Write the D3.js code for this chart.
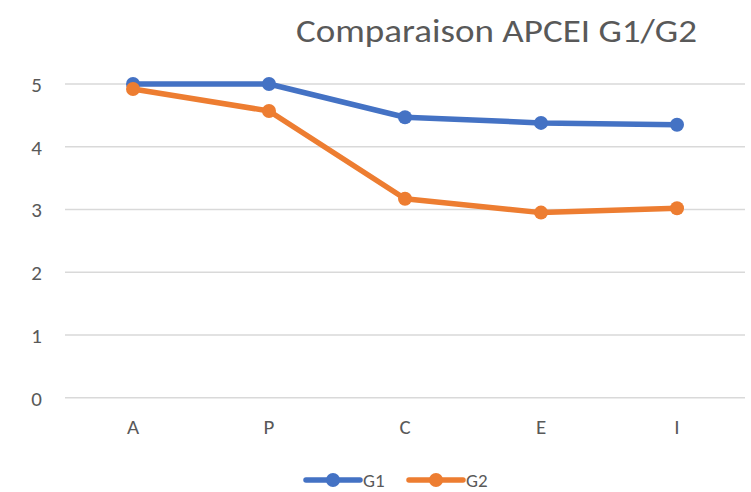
<!DOCTYPE html>
<html><head><meta charset="utf-8">
<script src="https://cdn.jsdelivr.net/npm/d3@7"></script>
<style>body{margin:0;background:#fff}svg{display:block}</style>
</head><body>
<svg id="c" width="751" height="492"></svg>
<script>
const categories = ["A","P","C","E","I"];
const g1 = [5.0, 5.0, 4.47, 4.38, 4.35];
const g2 = [4.92, 4.57, 3.17, 2.95, 3.02];
const yTicks = [0,1,2,3,4,5];
const seriesNames = ["G1","G2"];
const colors = ["#4472C4","#ED7D31"];
const title = "Comparaison APCEI G1/G2";

const svg = d3.select("#c");
const font = "Calibri, Carlito, Lato, 'Open Sans', sans-serif";
const x = d3.scaleBand().domain(categories).range([65,745]);
const y = d3.scaleLinear().domain([0,5]).range([397.7,84]);

// gridlines
svg.append("g").selectAll("line").data(yTicks).join("line")
  .attr("x1",65).attr("x2",745).attr("y1",d=>y(d)).attr("y2",d=>y(d))
  .attr("stroke","#d9d9d9").attr("stroke-width",1.5);

// y labels
const yAxis = d3.axisLeft(y).tickValues(yTicks).tickFormat(d3.format("d")).tickSize(0).tickPadding(0);
const ya = svg.append("g").attr("transform","translate(42,0)").call(yAxis);
ya.select(".domain").remove();
ya.selectAll("text").attr("font-family",font).attr("font-size",21).attr("fill","#595959").attr("dy","0.35em");

// x labels
const xAxis = d3.axisBottom(x).tickSize(0).tickPadding(0);
const xa = svg.append("g").attr("transform","translate(0,419)").call(xAxis);
xa.select(".domain").remove();
xa.selectAll("text").attr("font-family",font).attr("font-size",21).attr("fill","#595959").attr("dy","0.71em");

const cx = d => x(d) + x.bandwidth()/2;
[g1,g2].forEach((vals,i)=>{
  const data = categories.map((c,j)=>({c,v:vals[j]}));
  svg.append("path").datum(data)
    .attr("d", d3.line().x(d=>cx(d.c)).y(d=>y(d.v)))
    .attr("fill","none").attr("stroke",colors[i]).attr("stroke-width",5.5)
    .attr("stroke-linejoin","round").attr("stroke-linecap","round");
  svg.append("g").selectAll("circle").data(data).join("circle")
    .attr("cx",d=>cx(d.c)).attr("cy",d=>y(d.v)).attr("r",7)
    .attr("fill",colors[i]);
});

// title
svg.append("text").attr("x",296).attr("y",42).text(title)
  .attr("font-family",font).attr("font-size",32).attr("fill","#595959")
  .attr("textLength",401).attr("lengthAdjust","spacingAndGlyphs");

// legend
const leg = [{x:306},{x:409}];
seriesNames.forEach((n,i)=>{
  const lx = leg[i].x, ly = 480;
  svg.append("line").attr("x1",lx).attr("x2",lx+54).attr("y1",ly).attr("y2",ly)
    .attr("stroke",colors[i]).attr("stroke-width",5.5).attr("stroke-linecap","round");
  svg.append("circle").attr("cx",lx+27).attr("cy",ly).attr("r",7).attr("fill",colors[i]);
  svg.append("text").attr("x",lx+57).attr("y",ly).attr("dy","0.35em").text(n)
    .attr("font-family",font).attr("font-size",19).attr("fill","#595959");
});
</script>
</body></html>
